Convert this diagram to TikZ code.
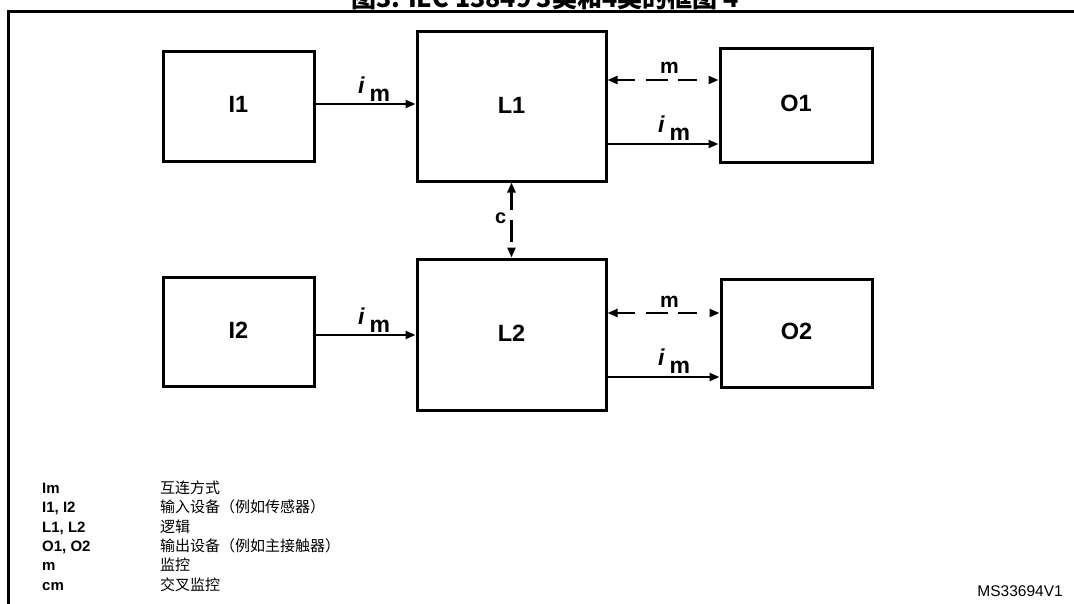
\documentclass[tikz,border=0pt]{standalone}
\usepackage{fontspec}
\setmainfont{Liberation Sans}
\newfontfamily\cjk{Noto Sans CJK SC}
\usetikzlibrary{arrows.meta}
\newcommand\imlab{{\bfseries\itshape i}\hspace{5pt}\raisebox{-8pt}{\bfseries m}}
\begin{document}
\begin{tikzpicture}[x=1pt,y=-1pt,
  blk/.style={draw, line width=3pt, inner sep=0pt, font=\fontsize{23.5}{28}\selectfont\bfseries},
  arr/.style={-{Triangle[length=10pt,width=8pt]}, line width=2.3pt},
  darr/.style={{Triangle[length=10pt,width=8pt]}-{Triangle[length=10pt,width=8pt]}, line width=2.3pt,
    dash pattern=on 18pt off 11pt on 22pt off 10pt on 19pt off 20pt},
  vdarr/.style={{Triangle[length=10pt,width=8pt]}-{Triangle[length=10pt,width=8pt]}, line width=2.3pt,
    dash pattern=on 18pt off 10pt on 22pt off 20pt},
  imtxt/.style={anchor=base west, inner sep=0pt, font=\fontsize{23}{27}\selectfont},
  mtxt/.style={anchor=base west, inner sep=0pt, font=\fontsize{21}{25}\selectfont\bfseries},
  legl/.style={anchor=base west, inner sep=0pt, font=\fontsize{15}{18}\selectfont\bfseries},
  legr/.style={anchor=base west, inner sep=0pt, font=\fontsize{15}{18}\selectfont\cjk},
]
\useasboundingbox (0,0) rectangle (1074,603);
\clip (0,0) rectangle (1074,603);

% title (cut off at top)
\node[anchor=base, inner sep=0pt, font=\fontsize{25}{30}\selectfont\cjk\bfseries] (title) at (545,7) {图3. IEC 13849 3类和4类的框图 4};

% frame
\draw[line width=3pt] (8,640) -- (8,11) -- (1100,11);

% boxes
\node[blk, minimum width=151pt, minimum height=110pt] (I1) at (238.5,106) {\raisebox{3pt}{I1}};
\node[blk, minimum width=189pt, minimum height=150pt] (L1) at (511.5,106) {\raisebox{2pt}{L1}};
\node[blk, minimum width=152pt, minimum height=114pt] (O1) at (796,105) {\raisebox{3pt}{O1}};
\node[blk, minimum width=151pt, minimum height=109pt] (I2) at (238.5,331.5) {\raisebox{3pt}{I2}};
\node[blk, minimum width=189pt, minimum height=151pt] (L2) at (511.5,334.5) {\raisebox{2pt}{L2}};
\node[blk, minimum width=151pt, minimum height=108pt] (O2) at (796.5,333) {\raisebox{3pt}{O2}};

% row coordinates
\coordinate (ya1) at (0,104);
\coordinate (yd1) at (0,80);
\coordinate (ys1) at (0,144);
\coordinate (ya2) at (0,335);
\coordinate (yd2) at (0,313);
\coordinate (ys2) at (0,377);

% connectors
\draw[arr] (I1.east |- ya1) -- (L1.west |- ya1);
\draw[darr] (L1.east |- yd1) -- (O1.west |- yd1);
\draw[arr] (L1.east |- ys1) -- (O1.west |- ys1);
\draw[arr] (I2.east |- ya2) -- (L2.west |- ya2);
\draw[darr] (L2.east |- yd2) -- (O2.west |- yd2);
\draw[arr] (L2.east |- ys2) -- (O2.west |- ys2);
\draw[vdarr] (L1.south) -- (L2.north);

% connector labels
\node[imtxt] (lim1) at (358,93) {\imlab};
\node[mtxt] (lm1) at (660,73) {m};
\node[imtxt] (lis1) at (658,132) {\imlab};
\node[imtxt] (lim2) at (358,324) {\imlab};
\node[mtxt] (lm2) at (660,307) {m};
\node[imtxt] (lis2) at (658,365) {\imlab};
\node[anchor=base west, inner sep=0pt, font=\fontsize{20}{24}\selectfont\bfseries] (lc) at (495,223) {c};

% legend
\node[legl] (k1) at (42,493) {Im};
\node[legl] (k2) at (42,512.5) {I1, I2};
\node[legl] (k3) at (42,532) {L1, L2};
\node[legl] (k4) at (42,551) {O1, O2};
\node[legl] (k5) at (42,570.5) {m};
\node[legl] (k6) at (42,590) {cm};
\node[legr] (v1) at (160,493) {互连方式};
\node[legr] (v2) at (160,512.5) {输入设备（例如传感器）};
\node[legr] (v3) at (160,532) {逻辑};
\node[legr] (v4) at (160,551) {输出设备（例如主接触器）};
\node[legr] (v5) at (160,570.5) {监控};
\node[legr] (v6) at (160,590) {交叉监控};

\node[anchor=base east, inner sep=0pt, font=\fontsize{15.5}{18}\selectfont] (ms) at (1063,596) {MS33694V1};
\end{tikzpicture}
\end{document}
